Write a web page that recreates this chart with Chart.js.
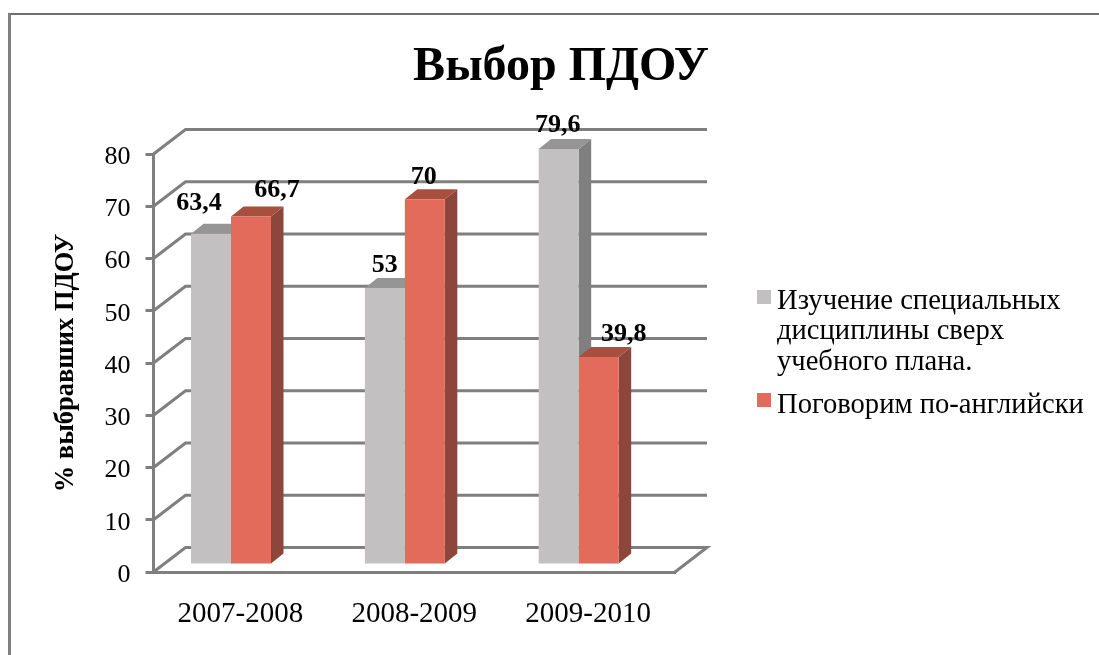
<!DOCTYPE html>
<html lang="ru">
<head>
<meta charset="utf-8">
<title>Выбор ПДОУ</title>
<style>
  html, body { margin: 0; padding: 0; background: #fff; overflow: hidden; }
  #frame { position: absolute; left: 8px; top: 13px; right: 0; bottom: 0; border-left: 3px solid #808080; border-top: 2px solid #707070; }
  #chart { position: absolute; left: 0; top: 0; display: block; }
</style>
</head>
<body>
<div id="frame"></div>
<canvas id="chart" width="1099" height="655"></canvas>
<script src="https://cdn.jsdelivr.net/npm/chart.js@4"></script>
<script>
// ==========================================
// DATA
// ==========================================

const years = ["2007-2008", "2008-2009", "2009-2010"];
const specialCourses = [63.4, 53, 79.6];
const englishCourses = [66.7, 70, 39.8];
const specialLabel = ["Изучение специальных", "дисциплины сверх", "учебного плана."];
const englishLabel = "Поговорим по-английски";
const yTicks = [0, 10, 20, 30, 40, 50, 60, 70, 80];

// ==========================================
// STYLE
// ==========================================

const SERIF = '"Liberation Serif", serif';
const LINE = "#7f7f7f";
const faces = [
  { front: "#c2c0c1", side: "#7f7f7f", top: "#959595" },
  { front: "#e26b5c", side: "#8c463c", top: "#a8503f" },
];

// wall depth of the floor / bars inside the 3D box
const WALL = { dx: 32, dy: 24.5 };
const BAR_SHIFT = { x: -9.4, y: -7 };
const BAR_DEPTH = { dx: 12.5, dy: 10 };

// data labels were dragged by hand in the original: [dataset][category] = [dx, dy] from bar top centre
const labelNudge = [
  [[-12, -30], [0, -23], [-1, -23.5]],
  [[26, -26.5], [-1, -22], [25, -23]],
];

// legend swatches, the native box leaves too wide a gap before the text
const SWATCH = { x: 757, size: 14, tops: [290, 393] };

// ==========================================
// 3D PLUGIN
// ==========================================

function quad(ctx, color, pts) {
  ctx.fillStyle = color;
  ctx.beginPath();
  ctx.moveTo(pts[0][0], pts[0][1]);
  pts.slice(1).forEach((p) => ctx.lineTo(p[0], p[1]));
  ctx.closePath();
  ctx.fill();
}

const box3d = {
  id: "box3d",

  // fixed legend width so that the plot keeps its place
  beforeLayout(chart) {
    const legend = chart.legend;
    if (legend && !legend._wrapped) {
      const fit = legend.fit;
      legend.fit = function () {
        fit.call(this);
        this.width = 424;
      };
      legend._wrapped = true;
    }
  },

  afterLayout(chart) {
    const legend = chart.legend;
    const pad = legend.options.labels.padding;
    const w = legend.width;
    legend.left = 777 - 14.3 - pad;
    legend.right = legend.left + w;
    legend.top = 287 - pad;
    legend.bottom = legend.top + legend.height;
    const title = chart.titleBlock;
    title.left += 11.5;
    title.right += 11.5;
  },

  beforeDraw(chart) {
    // tick numbers sit a little lower than the tick marks in the original
    const y = chart.scales.y;
    y.getLabelItems(chart.chartArea).forEach((item) => {
      if (!item._moved) {
        item.textOffset += 3;
        item._moved = true;
      }
    });
  },

  beforeDatasetsDraw(chart) {
    const { ctx, chartArea, scales } = chart;
    const y = scales.y;

    // walls: slanted lines and the back grid lines
    ctx.save();
    ctx.strokeStyle = LINE;
    ctx.lineWidth = 3;
    ctx.lineJoin = "miter";
    yTicks.forEach((v) => {
      const py = y.getPixelForValue(v);
      ctx.beginPath();
      ctx.moveTo(chartArea.left, py);
      ctx.lineTo(chartArea.left + WALL.dx, py - WALL.dy);
      ctx.lineTo(chartArea.right + WALL.dx, py - WALL.dy);
      if (v === 0) ctx.lineTo(chartArea.right, py);
      ctx.stroke();
    });
    ctx.restore();

    // bar side and top faces, first series below the second one
    ctx.save();
    ctx.translate(BAR_SHIFT.x, BAR_SHIFT.y);
    chart.getDatasetMeta(0).data.concat(chart.getDatasetMeta(1).data).forEach((bar, i) => {
      const style = faces[i < years.length ? 0 : 1];
      const half = bar.width / 2;
      const l = bar.x - half;
      const r = bar.x + half;
      const d = BAR_DEPTH;
      quad(ctx, style.side, [[r, bar.y], [r + d.dx, bar.y - d.dy], [r + d.dx, bar.base - d.dy], [r, bar.base]]);
      quad(ctx, style.top, [[l, bar.y], [l + d.dx, bar.y - d.dy], [r + d.dx, bar.y - d.dy], [r, bar.y]]);
    });
    // left on for the bars themselves, restored in afterDatasetsDraw
  },

  afterDatasetsDraw(chart) {
    const { ctx } = chart;
    ctx.restore();

    // value labels
    ctx.save();
    ctx.font = "bold 26px " + SERIF;
    ctx.fillStyle = "#000";
    ctx.textAlign = "center";
    ctx.textBaseline = "middle";
    chart.data.datasets.forEach((set, s) => {
      chart.getDatasetMeta(s).data.forEach((bar, i) => {
        const text = String(set.data[i]).replace(".", ",");
        const n = labelNudge[s][i];
        ctx.fillText(text, bar.x + BAR_SHIFT.x + n[0], bar.y + BAR_SHIFT.y + n[1]);
      });
    });
    ctx.restore();
  },

  afterDraw(chart) {
    const { ctx } = chart;
    SWATCH.tops.forEach((top, i) => {
      ctx.fillStyle = faces[i].front;
      ctx.fillRect(SWATCH.x, top, SWATCH.size, SWATCH.size);
    });
  },
};

// ==========================================
// CHART
// ==========================================

function initChart() {
  const ctx = document.getElementById("chart").getContext("2d");

  return new Chart(ctx, {
    type: "bar",
    data: {
      labels: years,
      datasets: [
        {
          label: specialLabel.join(" "),
          data: specialCourses,
          backgroundColor: faces[0].front,
          borderWidth: 0,
        },
        {
          label: englishLabel,
          data: englishCourses,
          backgroundColor: faces[1].front,
          borderWidth: 0,
        },
      ],
    },
    options: {
      responsive: false,
      animation: false,
      layout: { padding: { top: 39, left: 0, right: 0, bottom: 0 } },
      datasets: { bar: { barPercentage: 1, categoryPercentage: 0.46 } },
      plugins: {
        tooltip: { enabled: false },
        title: {
          display: true,
          text: "Выбор ПДОУ",
          color: "#000",
          font: { family: SERIF, size: 48, weight: "bold", lineHeight: 1.2 },
          padding: { top: 0, bottom: 57.4 },
        },
        legend: {
          display: true,
          position: "right",
          align: "start",
          labels: {
            boxWidth: 0,
            boxHeight: 14,
            padding: 12.5,
            color: "#111",
            font: { family: SERIF, size: 28.6, lineHeight: 1.066 },
            generateLabels: () => [
              { text: specialLabel, fillStyle: faces[0].front, strokeStyle: faces[0].front, lineWidth: 0, datasetIndex: 0 },
              { text: englishLabel, fillStyle: faces[1].front, strokeStyle: faces[1].front, lineWidth: 0, datasetIndex: 1 },
            ],
          },
        },
      },
      scales: {
        x: {
          afterFit: (scale) => { scale.height = 83; },
          grid: { display: true, drawOnChartArea: false, drawTicks: false },
          border: { display: true, color: LINE, width: 3 },
          ticks: { color: "#000", padding: 25, font: { family: SERIF, size: 29 }, maxRotation: 0 },
        },
        y: {
          min: 0,
          max: 80,
          afterFit: (scale) => { scale.width = 153.5; },
          afterBuildTicks: (scale) => { scale.ticks = yTicks.map((v) => ({ value: v })); },
          grid: { display: true, drawOnChartArea: false, drawTicks: true, tickLength: 8, color: LINE, lineWidth: 3 },
          border: { display: true, color: LINE, width: 3 },
          ticks: { color: "#000", padding: 15, font: { family: SERIF, size: 26 } },
          title: {
            display: true,
            text: "% выбравших ПДОУ",
            color: "#000",
            font: { family: SERIF, size: 26.5, weight: "bold", lineHeight: 1.2 },
            padding: { top: 50, bottom: 0 },
          },
        },
      },
    },
    plugins: [box3d],
  });
}

window.addEventListener("DOMContentLoaded", () => {
  initChart();
});
</script>
</body>
</html>
